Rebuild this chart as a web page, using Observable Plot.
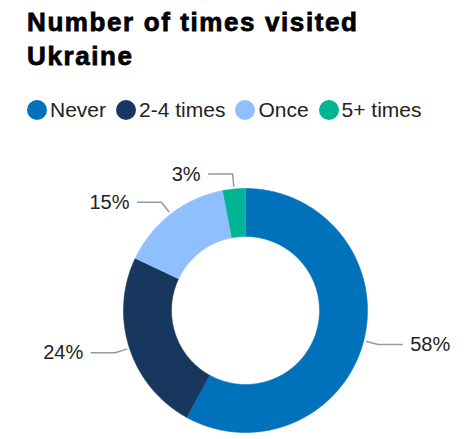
<!DOCTYPE html>
<html><head><meta charset="utf-8">
<script src="https://cdn.jsdelivr.net/npm/d3@7"></script>
<script src="https://cdn.jsdelivr.net/npm/@observablehq/plot@0.6"></script>
<style>
body{margin:0;background:#fff;font-family:"Liberation Sans",Arial,sans-serif;}
#wrap{position:relative;width:469px;height:439px;overflow:hidden;}
#title{position:absolute;left:27px;top:5px;font-weight:bold;font-size:26px;line-height:34px;letter-spacing:1.6px;color:#000;-webkit-text-stroke:0.8px #000;white-space:nowrap;}
#legend{position:absolute;left:27px;top:100px;height:20px;display:flex;align-items:center;font-size:21px;line-height:20px;color:#222;white-space:nowrap;}
.item{display:flex;align-items:center;margin-right:10px;}
.sw{width:20px;height:20px;border-radius:50%;margin-right:3px;flex:none;}
#chart{position:absolute;left:0;top:130px;}
</style>
</head><body>
<div id="wrap">
  <div id="title">Number of times visited<br>Ukraine</div>
  <div id="legend"></div>
  <div id="chart"></div>
</div>
<script>
const categories = ["Never", "2-4 times", "Once", "5+ times"];
const values = [58, 24, 15, 3];
const labels = ["58%", "24%", "15%", "3%"];

const palette = ["#0072bc", "#18375e", "#8fbfff", "#00b393"];

const rows = categories.map((c, i) => ({cat: c, value: values[i], label: labels[i]}));

// legend
const leg = document.getElementById("legend");
categories.forEach((c, i) => {
  const it = document.createElement("div"); it.className = "item";
  const sw = document.createElement("div"); sw.className = "sw"; sw.style.background = palette[i];
  const t = document.createElement("span"); t.textContent = c;
  it.appendChild(sw); it.appendChild(t); leg.appendChild(it);
});

const R = 122, R0 = 74, RL1 = 125, RL2 = 137, HL = 24, GAP = 8;
const pie = d3.pie().sort(null).value(d => d.value)(rows);
const arcPts = [];
const leaders = [];
const texts = [];
for (const p of pie) {
  const span = p.endAngle - p.startAngle;
  const n = Math.max(2, Math.ceil(span / (Math.PI / 360)));
  for (let i = 0; i <= n; i++) {
    const a = p.startAngle + span * i / n;
    arcPts.push({cat: p.data.cat, x: R * Math.sin(a), y: -R * Math.cos(a)});
  }
  for (let i = n; i >= 0; i--) {
    const a = p.startAngle + span * i / n;
    arcPts.push({cat: p.data.cat, x: R0 * Math.sin(a), y: -R0 * Math.cos(a)});
  }
  const m = (p.startAngle + p.endAngle) / 2;
  const side = Math.sin(m) >= 0 ? 1 : -1;
  const ex = RL2 * Math.sin(m), ey = -RL2 * Math.cos(m);
  leaders.push({cat: p.data.cat, x: RL1 * Math.sin(m), y: -RL1 * Math.cos(m)});
  leaders.push({cat: p.data.cat, x: ex, y: ey});
  leaders.push({cat: p.data.cat, x: ex + side * HL, y: ey});
  texts.push({label: p.data.label, x: ex + side * (HL + GAP), y: ey, anchor: side > 0 ? "start" : "end"});
}

const chart = Plot.plot({
  width: 469,
  height: 309,
  margin: 0,
  x: {domain: [-245, 224], range: [0, 469], axis: null},
  y: {domain: [-180, 129], range: [0, 309], axis: null},
  color: {domain: categories, range: palette},
  marks: [
    Plot.line(arcPts, {x: "x", y: "y", z: "cat", fill: "cat", stroke: "cat", strokeWidth: 0.6, curve: "linear"}),
    Plot.line(leaders, {x: "x", y: "y", z: "cat", stroke: "#999", strokeWidth: 1.5}),
    Plot.text(texts.filter(d => d.anchor === "start"), {x: "x", y: "y", text: "label", textAnchor: "start", fontSize: 20, fill: "#222", fontFamily: "Liberation Sans, Arial, sans-serif"}),
    Plot.text(texts.filter(d => d.anchor === "end"), {x: "x", y: "y", text: "label", textAnchor: "end", fontSize: 20, fill: "#222", fontFamily: "Liberation Sans, Arial, sans-serif"})
  ]
});
document.getElementById("chart").appendChild(chart);
</script>
</body></html>
